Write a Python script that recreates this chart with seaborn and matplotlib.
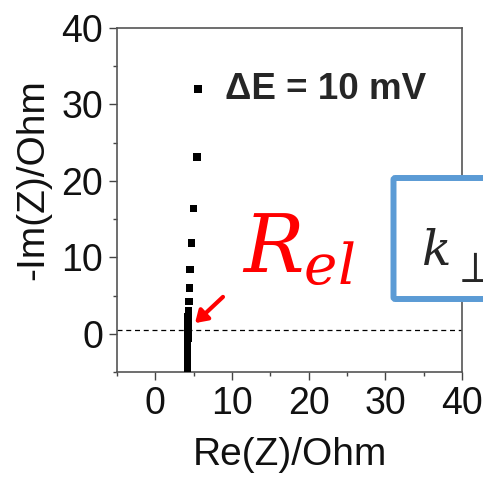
import numpy as np
import pandas as pd
import seaborn as sns
from matplotlib import pyplot as plt
from matplotlib.patches import FancyBboxPatch, FancyArrowPatch

# Nyquist data
re_z = [5.6, 5.4, 5.0, 4.7, 4.5, 4.45, 4.4, 4.35, 4.35, 4.3, 4.3, 4.3, 4.3, 4.25, 4.25,
        4.25, 4.25, 4.2, 4.2, 4.2, 4.2, 4.2, 4.2, 4.2, 4.2, 4.2, 4.2]
im_z = [32.0, 23.1, 16.4, 11.9, 8.4, 6.0, 4.2, 3.0, 2.6, 2.2, 1.8, 1.4, 1.0, 0.6, 0.2,
        -0.2, -0.6, -1.0, -1.4, -1.8, -2.2, -2.6, -3.0, -3.4, -3.8, -4.2, -4.6]
x_ticks = [0, 10, 20, 30, 40]
y_ticks = [0, 10, 20, 30, 40]
r_el_level = 0.5

df = pd.DataFrame({"Re": re_z, "Im": im_z})

sns.set_style("ticks")
plt.rcParams['font.family'] = ['Liberation Sans', 'DejaVu Sans']
plt.rcParams['mathtext.fontset'] = 'dejavuserif'

fig = plt.figure(figsize=(4.83, 4.82), dpi=100)
ax = fig.add_axes([0.2422, 0.2282, 0.7143, 0.7137])

sns.scatterplot(data=df, x="Re", y="Im", marker="s", s=30, color="black",
                edgecolor="none", ax=ax, zorder=3)
ax.axhline(r_el_level, color="black", ls="--", lw=0.9, dashes=(4, 3))

ax.set_xlim(-5, 40)
ax.set_ylim(-5, 40)
ax.set_xticks(x_ticks)
ax.set_yticks(y_ticks)
ax.set_xticks(np.arange(-5, 41, 5), minor=True)
ax.set_yticks(np.arange(-5, 41, 5), minor=True)
ax.tick_params(which="both", direction="out", width=1, color="#444444",
               labelsize=27, labelcolor="#111111", top=False, right=False)
ax.tick_params(which="major", length=5.5, pad=4.5)
ax.tick_params(which="minor", length=3)
for s in ax.spines.values():
    s.set_color("#555555")
    s.set_linewidth(1.2)

ax.set_xlabel("Re(Z)/Ohm", fontsize=28, color="#111111")
ax.set_ylabel("-Im(Z)/Ohm", fontsize=28, color="#111111")
ax.xaxis.set_label_coords(0.5, -0.19)
ax.yaxis.set_label_coords(-0.19, 0.558)

fig.text(225 / 483, 1 - 99 / 482, "ΔE = 10 mV", fontsize=26.5, fontweight="bold",
         ha="left", va="baseline")

fig.text(242 / 483, 1 - 272 / 482, r"$R_{el}$", color="red", fontsize=58,
         ha="left", va="baseline")
arrow = FancyArrowPatch((225, 482 - 295), (193, 482 - 325), transform=None,
                        arrowstyle="-|>,head_length=7,head_width=4.5",
                        color="red", lw=3, zorder=5)
fig.patches.append(arrow)

box = FancyBboxPatch((393.5 / 483, 1 - 299 / 482), 0.3, 121 / 482,
                     boxstyle="round,pad=0,rounding_size=0.004",
                     transform=fig.transFigure, facecolor="white",
                     edgecolor="#5B9BD5", lw=4.3, zorder=10)
fig.patches.append(box)
fig.text(421 / 483, 1 - 265 / 482, r"$k$", fontsize=35, ha="left",
         va="baseline", zorder=11)
fig.text(451 / 483, 1 - 282 / 482, r"$\perp$", fontsize=32, ha="left",
         va="baseline", zorder=11)

fig.savefig("out.png", dpi=100)
